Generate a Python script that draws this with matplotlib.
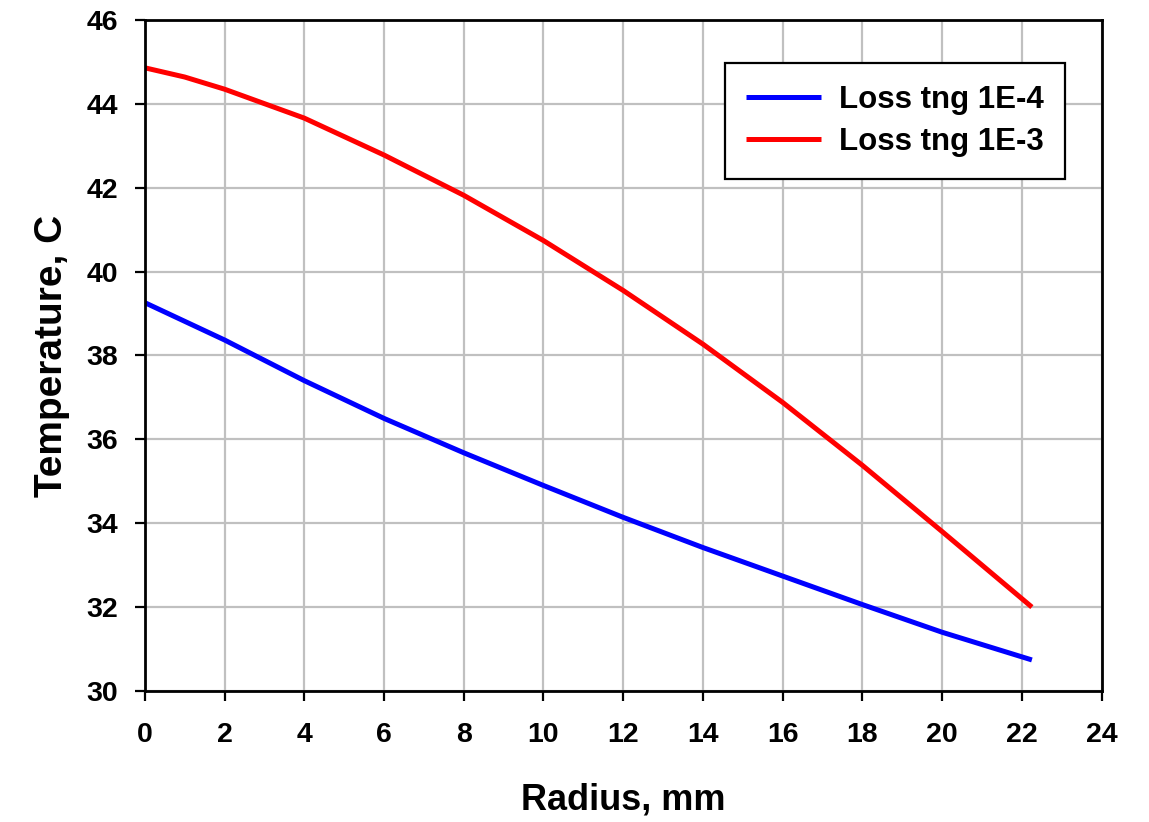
import matplotlib.pyplot as plt

# radius (mm) and temperature (C)
radius_lo = [0, 2, 4, 6, 8, 10, 12, 14, 16, 18, 20, 22.25]
temp_lo = [39.26, 38.37, 37.40, 36.50, 35.68, 34.90, 34.14, 33.42, 32.74, 32.06, 31.40, 30.74]

radius_hi = [0, 1, 2, 4, 6, 8, 10, 12, 14, 16, 18, 20, 22.25]
temp_hi = [44.86, 44.64, 44.35, 43.66, 42.78, 41.82, 40.74, 39.55, 38.27, 36.88, 35.38, 33.80, 32.00]

labels = ['Loss tng 1E-4', 'Loss tng 1E-3']
x_ticks = [0, 2, 4, 6, 8, 10, 12, 14, 16, 18, 20, 22, 24]
y_ticks = [30, 32, 34, 36, 38, 40, 42, 44, 46]


def do_plot():
    plt.rcParams['font.family'] = ['Liberation Sans', 'DejaVu Sans']
    plt.rcParams['font.weight'] = 'bold'
    fig = plt.figure(figsize=(11.49, 8.22), dpi=100)
    ax = fig.add_axes([0.126, 0.1594, 0.8328, 0.8163])

    ax.plot(radius_lo, temp_lo, color='#0000ff', lw=3.6, label=labels[0],
            solid_capstyle='butt', solid_joinstyle='round')
    ax.plot(radius_hi, temp_hi, color='#ff0000', lw=3.6, label=labels[1],
            solid_capstyle='butt', solid_joinstyle='round')

    ax.set_xlim(0, 24)
    ax.set_ylim(30, 46)
    ax.set_xticks(x_ticks)
    ax.set_yticks(y_ticks)
    ax.grid(color='#c0c0c0', lw=1.6)
    ax.set_axisbelow(True)
    for s in ax.spines.values():
        s.set_linewidth(2)
        s.set_color('black')
    ax.tick_params(direction='out', length=7, width=1.6, labelsize=20.5)
    ax.tick_params(axis='x', pad=15)
    ax.tick_params(axis='y', pad=12)
    for lab in ax.get_xticklabels() + ax.get_yticklabels():
        lab.set_fontweight('bold')

    ax.set_xlabel('Radius, mm', fontsize=26, fontweight='bold', labelpad=25)
    ax.set_ylabel('Temperature, C', fontsize=28, fontweight='bold', labelpad=12)

    leg = ax.legend(loc='upper right', bbox_to_anchor=(0.962, 0.936), fontsize=22.5,
                    fancybox=False, framealpha=1, edgecolor='black', handlelength=2.4,
                    borderpad=0.7, labelspacing=0.38, handletextpad=0.55, borderaxespad=0)
    leg.get_frame().set_linewidth(1.6)
    for t in leg.get_texts():
        t.set_fontweight('bold')

    plt.savefig('out.png', dpi=100)


if __name__ == '__main__':
    do_plot()
